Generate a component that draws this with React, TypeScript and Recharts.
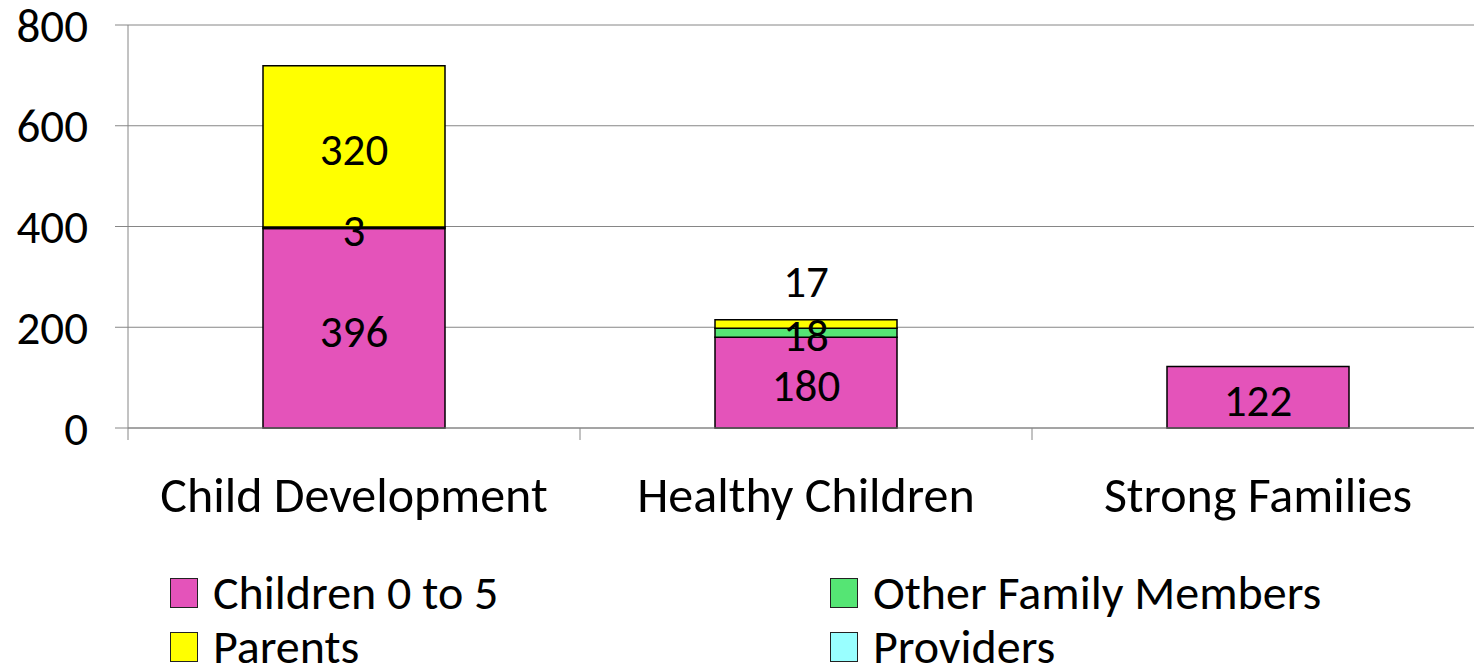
import React from 'react';
import { BarChart, Bar, XAxis, YAxis, CartesianGrid, LabelList, Legend } from 'recharts';

const categories = ['Child Development', 'Healthy Children', 'Strong Families'];
const children0to5 = [396, 180, 122];
const otherFamily = [3, 18, 0];
const parents = [320, 17, 0];
const providers = [0, 0, 0];
const yTicks = [0, 200, 400, 600, 800];

const series = [
  { key: 'children', name: 'Children 0 to 5', color: '#E453BA', values: children0to5 },
  { key: 'other', name: 'Other Family Members', color: '#55E574', values: otherFamily },
  { key: 'parents', name: 'Parents', color: '#FFFF00', values: parents },
  { key: 'providers', name: 'Providers', color: '#99FFFF', values: providers },
];
// legend reads row by row: Children, Other Family / Parents, Providers
const legendOrder = ['children', 'other', 'parents', 'providers'];

const data = categories.map((name, i) => {
  const row: Record<string, any> = { name };
  series.forEach((s) => (row[s.key] = s.values[i]));
  return row;
});

const W = 1474;
const H = 668;
const LEFT = 128;
const CAT_W = 452;
const CHART_W = LEFT + CAT_W * categories.length; // plot runs a bit past the window edge
const FONT = 'Carlito, Lato, sans-serif';
const AXIS = '#868686';

function CategoryTick(props: any) {
  const { x, y, payload, index } = props;
  const half = CAT_W / 2;
  return (
    <g>
      <line x1={x - half} x2={x - half} y1={y} y2={y + 12} stroke={AXIS} />
      {index === categories.length - 1 && (
        <line x1={x + half} x2={x + half} y1={y} y2={y + 12} stroke={AXIS} />
      )}
      <text x={x} y={y + 66} textAnchor="middle" dominantBaseline="central" fontSize={50} fontFamily={FONT} fill="#000">
        {payload.value}
      </text>
    </g>
  );
}

const makeLabel = (liftSmall: boolean) => (props: any) => {
  const { x, y, width, height, value } = props;
  if (!value) return null;
  const top = Math.min(y, y + height);
  const h = Math.abs(height);
  let cy = top + h / 2;
  if (liftSmall && h < 30) cy = top - 41;
  return (
    <text x={x + width / 2} y={cy + 3} textAnchor="middle" dominantBaseline="central" fontSize={45} fontFamily={FONT} fill="#000">
      {value}
    </text>
  );
};

function LegendBox() {
  return (
    <div style={{ display: 'grid', gridTemplateColumns: '660px 600px', fontFamily: FONT, fontSize: 48, lineHeight: '54px', color: '#000' }}>
      {legendOrder.map((k) => {
        const s = series.find((d) => d.key === k)!;
        return (
          <div key={k} style={{ display: 'flex', alignItems: 'center', height: 54, whiteSpace: 'nowrap' }}>
            <span style={{ width: 26, height: 28, background: s.color, border: '1px solid #222', marginRight: 15, display: 'inline-block', flex: 'none' }} />
            {s.name}
          </div>
        );
      })}
    </div>
  );
}

export default function App() {
  return (
    <div style={{ position: 'absolute', left: 0, top: 0, width: W, height: H, background: '#fff', overflow: 'hidden' }}>
      <BarChart width={CHART_W} height={H} data={data} margin={{ top: 25, right: 0, left: 0, bottom: 0 }}>
        <CartesianGrid vertical={false} stroke={AXIS} />
        <XAxis
          dataKey="name"
          height={240}
          axisLine={{ stroke: AXIS }}
          tickLine={false}
          tickSize={0}
          tickMargin={0}
          interval={0}
          tick={<CategoryTick />}
        />
        <YAxis
          width={LEFT}
          domain={[0, 800]}
          ticks={yTicks}
          interval={0}
          axisLine={{ stroke: AXIS }}
          tickLine={{ stroke: AXIS }}
          tickSize={13}
          tickMargin={27}
          tick={{ fill: '#000', fontSize: 47, fontFamily: FONT }}
        />
        <Legend
          verticalAlign="middle"
          align="center"
          layout="horizontal"
          content={<LegendBox />}
          wrapperStyle={{ top: 566, left: 170, width: 1260, height: 108 }}
        />
        {series.map((s) => (
          <Bar
            key={s.key}
            dataKey={s.key}
            name={s.name}
            stackId="a"
            fill={s.color}
            stroke="#000"
            strokeWidth={1.5}
            barSize={182}
            isAnimationActive={false}
          >
            <LabelList dataKey={s.key} content={makeLabel(s.key === 'parents')} />
          </Bar>
        ))}
      </BarChart>
    </div>
  );
}
